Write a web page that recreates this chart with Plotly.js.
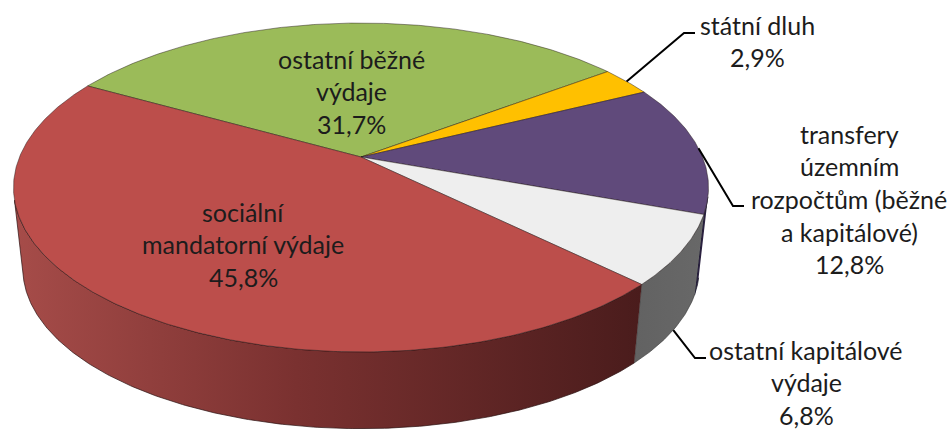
<!DOCTYPE html>
<html><head><meta charset="utf-8">
<script src="https://cdn.plot.ly/plotly-3.0.0.min.js"></script>
<style>html,body{margin:0;padding:0;background:#fff}#c{width:947px;height:429px}</style>
</head><body><div id="c"></div>
<script>
// Data, clockwise from the first slice
const categories = ["ostatní běžné výdaje","státní dluh","transfery územním rozpočtům (běžné a kapitálové)","ostatní kapitálové výdaje","sociální mandatorní výdaje"];
const values = [31.7,2.9,12.8,6.8,45.8];
const valueLabels = ["31,7%","2,9%","12,8%","6,8%","45,8%"];
const labelLines = [["ostatní běžné","výdaje"],["státní dluh"],["transfery","územním","rozpočtům (běžné","a kapitálové)"],["ostatní kapitálové","výdaje"],["sociální","mandatorní výdaje"]];

// Styles and placement
const topColors = ["#9BBB59","#FFC000","#604A7B","#EEEEEE","#BC4E4B"];
const labelX = [351,757,849,806,243];
const labelY = [58.5,24.5,133.5,349.5,211.5];
const lineStep = 32.7;
const leaderElbows = {1:[[684,33],[695,33]],2:[[733,206],[744,206]],3:[[695,358],[706,358]]};
const startAngle = 150.8;
// Projection of the tilted disc
const cx=361,c0=157,A=341.5,B=158.8,k=0.1854,S=0.973,D=82;
function proj(deg,bottom){
  const t=deg*Math.PI/180,u=Math.cos(t),v=Math.sin(t),w=1+k*v;
  const s=bottom?S:1,d=bottom?D:0;
  return [cx+s*A*u/w, c0+d-s*B*v/w];
}
const total=values.reduce((a,b)=>a+b,0);
let acc=startAngle;
const ranges=values.map(v=>{const a=acc;acc-=v/total*360;return [a,acc];});
function arc(a,b,bottom){const n=Math.max(2,Math.ceil(Math.abs(a-b)*2)),o=[];for(let i=0;i<=n;i++)o.push(proj(a+(b-a)*i/n,bottom));return o;}
function poly(pts,extra){return Object.assign({type:'scatter',mode:'lines',x:pts.map(p=>p[0]),y:pts.map(p=>p[1]),fill:'toself',hoverinfo:'skip',showlegend:false},extra);}
const traces=[];
function side(a,b,extra){traces.push(poly(arc(a,b,false).concat(arc(b,a,true)),extra));}
// side walls: visible front part of the slices (angles running clockwise)
side(ranges[2][1]+6,ranges[2][1],{fillcolor:'#2B2140',line:{color:'#1a1a2a',width:0.8}});
side(ranges[3][0],ranges[3][1],{fillgradient:{type:'horizontal',colorscale:[[0,'#626262'],[1,'#686868']]},line:{color:'#333',width:0.6}});
side(ranges[3][1],-165,{fillgradient:{type:'horizontal',colorscale:[[0,'#A64C49'],[0.45,'#7A3130'],[1,'#4A1C1C']]},line:{color:'#2a1010',width:0.7}});
// top face
ranges.forEach((r,i)=>{
  const pts=[[cx,c0]].concat(arc(r[0],r[1],false)).concat([[cx,c0]]);
  traces.push(poly(pts,{fillcolor:topColors[i],line:{color:'rgba(30,20,20,0.65)',width:0.7}}));
});
// leaders
Object.keys(leaderElbows).forEach(key=>{
  const i=+key,mid=(ranges[i][0]+ranges[i][1])/2;
  const start=proj(mid,i===3);
  const pts=[start].concat(leaderElbows[key]);
  traces.push({type:'scatter',mode:'lines',x:pts.map(p=>p[0]),y:pts.map(p=>p[1]),line:{color:'#000',width:2},hoverinfo:'skip',showlegend:false});
});
// labels: one annotation per line to keep the original line spacing
const annotations=[];
categories.forEach((c,i)=>{
  labelLines[i].concat([valueLabels[i]]).forEach((t,j)=>{
    annotations.push({x:labelX[i],y:labelY[i]+j*lineStep,xref:'x',yref:'y',text:t,showarrow:false,xanchor:'center',yanchor:'middle',font:{family:'Lato, sans-serif',size:25,color:'#1c1c1c'}});
  });
});
Plotly.newPlot('c',traces,{
  width:947,height:429,margin:{l:0,r:0,t:0,b:0},paper_bgcolor:'#fff',plot_bgcolor:'#fff',showlegend:false,
  xaxis:{range:[0,947],visible:false,fixedrange:true},
  yaxis:{range:[429,0],visible:false,fixedrange:true},
  annotations:annotations
},{displayModeBar:false,staticPlot:true});
</script></body></html>
